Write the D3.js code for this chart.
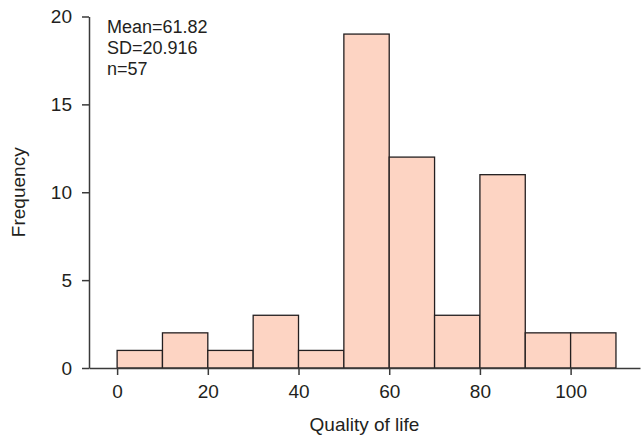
<!DOCTYPE html>
<html>
<head>
<meta charset="utf-8">
<script src="https://cdn.jsdelivr.net/npm/d3@7"></script>
<style>
body { margin: 0; background: #fff; }
svg text { font-family: "Liberation Sans", Arial, Helvetica, sans-serif; fill: #231f20; }
.bar { fill: #fdd4c3; stroke: #231f20; stroke-width: 1.3; }
.axis path, .axis line { stroke: #3a3a3a; stroke-width: 1.5; }
</style>
</head>
<body>
<svg id="chart" width="642" height="439"></svg>
<script>
var bin_start = [0, 10, 20, 30, 40, 50, 60, 70, 80, 90, 100];
var bin_end = [10, 20, 30, 40, 50, 60, 70, 80, 90, 100, 110];
var frequency = [1, 2, 1, 3, 1, 19, 12, 3, 11, 2, 2];
var x_ticks = [0, 20, 40, 60, 80, 100];
var y_ticks = [0, 5, 10, 15, 20];
var stats_text = ["Mean=61.82", "SD=20.916", "n=57"];

var svg = d3.select('#chart');
var x = d3.scaleLinear().domain([-6.2, 115.3]).range([89, 640]);
var y = d3.scaleLinear().domain([0, 20]).range([368, 16.5]);

// bars
svg.append("g")
    .selectAll("rect")
    .data(frequency)
    .enter()
    .append("rect")
        .attr("class", "bar")
        .attr("x", function (d, i) { return x(bin_start[i]); })
        .attr("y", function (d) { return y(d); })
        .attr("width", function (d, i) { return x(bin_end[i]) - x(bin_start[i]); })
        .attr("height", function (d) { return y(0) - y(d); });

// axes
var x_axis = svg.append("g")
    .attr("class", "axis")
    .attr("transform", "translate(0," + y(0) + ")")
    .call(d3.axisBottom(x).tickValues(x_ticks).tickSize(7).tickSizeOuter(0).tickPadding(10));
x_axis.selectAll("text").style("font-size", "19px");

var y_axis = svg.append("g")
    .attr("class", "axis")
    .attr("transform", "translate(" + x.range()[0] + ",0)")
    .call(d3.axisLeft(y).tickValues(y_ticks).tickSize(7).tickSizeOuter(0).tickPadding(10));
y_axis.selectAll("text").style("font-size", "19px");

// axis titles
svg.append("text")
    .attr("x", (x.range()[0] + x.range()[1]) / 2)
    .attr("y", 431)
    .attr("text-anchor", "middle")
    .style("font-size", "19px")
    .text("Quality of life");

svg.append("text")
    .attr("transform", "translate(25," + (y(0) + y(20)) / 2 + ") rotate(-90)")
    .attr("text-anchor", "middle")
    .style("font-size", "19px")
    .text("Frequency");

// summary stats
svg.append("g")
    .selectAll("text")
    .data(stats_text)
    .enter()
    .append("text")
        .attr("x", 107)
        .attr("y", function (d, i) { return 33 + i * 21; })
        .style("font-size", "18px")
        .text(function (d) { return d; });
</script>
</body>
</html>
